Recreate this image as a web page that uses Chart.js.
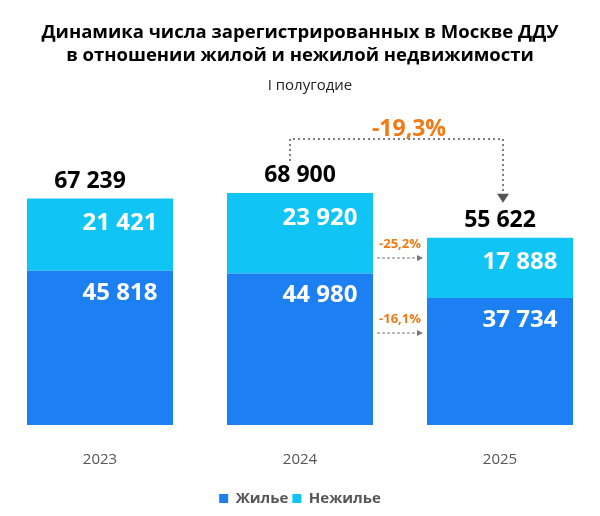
<!DOCTYPE html><html><head><meta charset="utf-8">
<script src="https://cdn.jsdelivr.net/npm/chart.js@4"></script>
<style>body{margin:0;background:#fff}#w{width:600px;height:516px}</style></head><body>
<div id="w"><canvas id="c"></canvas></div>
<script>
const categories=['2023','2024','2025'];
const residential=[45818,44980,37734];
const nonResidential=[21421,23920,17888];
const totals=[67239,68900,55622];
const changeTotal='-19,3%';
const changeNonRes='-25,2%';
const changeRes='-16,1%';
const fmt=v=>v.toLocaleString('ru-RU').replace(/\s/g,' ');
const F='"Open Sans", sans-serif';
const deco={id:'deco',afterDatasetsDraw(ch){
 const c=ch.ctx;c.save();c.textAlign='center';c.textBaseline='middle';
 c.fillStyle='#000';c.font='bold 18.5px '+F;
 c.fillText('Динамика числа зарегистрированных в Москве ДДУ',300,33);
 c.fillText('в отношении жилой и нежилой недвижимости',300,56);
 c.font='15px '+F;c.fillStyle='#222';c.fillText('I полугодие',310,86);
 const m0=ch.getDatasetMeta(0),m1=ch.getDatasetMeta(1);
 for(let i=0;i<3;i++){
  const b0=m0.data[i],b1=m1.data[i];
  c.fillStyle='#000';c.font='bold 23px '+F;c.fillText(fmt(totals[i]),b1.x-(i==0?10:0),b1.y-17);
  c.fillStyle='#fff';c.font='bold 24px '+F;
  c.fillText(fmt(nonResidential[i]),b1.x+20,b1.y+25);
  c.fillText(fmt(residential[i]),b0.x+20,b0.y+22);
 }
 const a=m1.data[1],b=m1.data[2];
 c.strokeStyle='#555';c.lineWidth=1.5;c.setLineDash([2,3]);
 c.beginPath();c.moveTo(a.x-10,a.y-32);c.lineTo(a.x-10,a.y-54);c.lineTo(b.x+3,a.y-54);c.lineTo(b.x+3,b.y-42);c.stroke();
 c.setLineDash([]);c.fillStyle='#555';c.beginPath();c.moveTo(b.x-3,b.y-44);c.lineTo(b.x+9,b.y-44);c.lineTo(b.x+3,b.y-35);c.fill();
 c.fillStyle='#f07a14';c.font='bold 23px '+F;c.fillText(changeTotal,409,129);
 const x1=a.x+a.width/2+4,x2=b.x-b.width/2-4;
 [[258,changeNonRes],[333,changeRes]].forEach(([y,t])=>{
  c.strokeStyle='#777';c.lineWidth=1;c.setLineDash([3,2]);c.beginPath();c.moveTo(x1,y);c.lineTo(x2-5,y);c.stroke();c.setLineDash([]);
  c.fillStyle='#777';c.beginPath();c.moveTo(x2,y);c.lineTo(x2-6,y-3);c.lineTo(x2-6,y+3);c.fill();
  c.fillStyle='#f07a14';c.font='bold 13px '+F;c.fillText(t,(x1+x2)/2,y-14);
 });
 c.restore();}};
new Chart(document.getElementById('c'),{type:'bar',
 data:{labels:categories,datasets:[
  {label:'Жилье',data:residential,backgroundColor:'#1c7ff2',stack:'s'},
  {label:'Нежилье',data:nonResidential,backgroundColor:'#10c5f6',stack:'s'}]},
 options:{responsive:true,maintainAspectRatio:false,animation:false,
  layout:{padding:{top:105,left:-20,right:-20,bottom:0}},
  datasets:{bar:{categoryPercentage:1,barPercentage:0.73}},
  scales:{x:{stacked:true,grid:{display:false},border:{display:false},ticks:{color:'#555',font:{size:15,family:F},padding:18}},
   y:{stacked:true,display:false,min:0,max:95000}},
  plugins:{tooltip:{enabled:false},legend:{position:'bottom',labels:{boxWidth:9,boxHeight:9,color:'#555',font:{size:15,weight:'bold',family:F},padding:4}}}},
 plugins:[deco]});
</script></body></html>
